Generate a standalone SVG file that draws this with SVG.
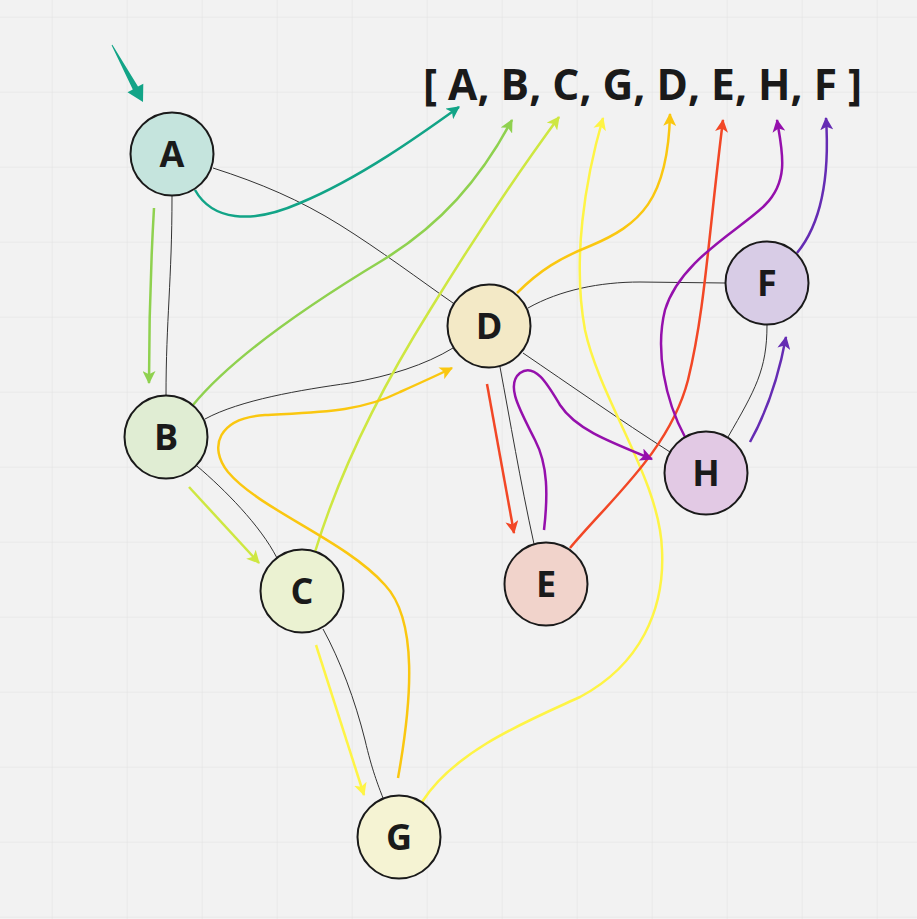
<svg xmlns="http://www.w3.org/2000/svg" width="917" height="919" viewBox="0 0 917 919">
<style>
.node circle{stroke:#1a1a1a;stroke-width:2}
.node text{font-family:"Open Sans","Noto Sans","Liberation Sans",sans-serif;font-weight:700;font-size:36px;fill:#1a1a1a;text-anchor:middle}
.edge{fill:none;stroke:#333;stroke-width:1}
.tr{fill:none;stroke-width:2.5}
.title{font-family:"Open Sans","Noto Sans","Liberation Sans",sans-serif;font-weight:700;font-size:42.5px;fill:#1a1a1a}
</style>
<defs>
<pattern id="grid" x="51.7" y="16.7" width="75" height="75" patternUnits="userSpaceOnUse">
<path d="M0,0 H75 M0,0 V75" stroke="#e6e6e6" stroke-width="1.5" fill="none"/>
</pattern>
<marker id="m-teal" viewBox="0 0 12 12" refX="11" refY="6" markerWidth="13" markerHeight="13" markerUnits="userSpaceOnUse" orient="auto"><path d="M0,0 L12,6 L0,12 L3,6 z" fill="#12a487"/></marker>
<marker id="m-green" viewBox="0 0 12 12" refX="11" refY="6" markerWidth="13" markerHeight="13" markerUnits="userSpaceOnUse" orient="auto"><path d="M0,0 L12,6 L0,12 L3,6 z" fill="#8fd14f"/></marker>
<marker id="m-lime" viewBox="0 0 12 12" refX="11" refY="6" markerWidth="13" markerHeight="13" markerUnits="userSpaceOnUse" orient="auto"><path d="M0,0 L12,6 L0,12 L3,6 z" fill="#cee741"/></marker>
<marker id="m-yellow" viewBox="0 0 12 12" refX="11" refY="6" markerWidth="13" markerHeight="13" markerUnits="userSpaceOnUse" orient="auto"><path d="M0,0 L12,6 L0,12 L3,6 z" fill="#fef445"/></marker>
<marker id="m-orange" viewBox="0 0 12 12" refX="11" refY="6" markerWidth="13" markerHeight="13" markerUnits="userSpaceOnUse" orient="auto"><path d="M0,0 L12,6 L0,12 L3,6 z" fill="#fac710"/></marker>
<marker id="m-red" viewBox="0 0 12 12" refX="11" refY="6" markerWidth="13" markerHeight="13" markerUnits="userSpaceOnUse" orient="auto"><path d="M0,0 L12,6 L0,12 L3,6 z" fill="#f24726"/></marker>
<marker id="m-purple" viewBox="0 0 12 12" refX="11" refY="6" markerWidth="13" markerHeight="13" markerUnits="userSpaceOnUse" orient="auto"><path d="M0,0 L12,6 L0,12 L3,6 z" fill="#9510ac"/></marker>
<marker id="m-violet" viewBox="0 0 12 12" refX="11" refY="6" markerWidth="13" markerHeight="13" markerUnits="userSpaceOnUse" orient="auto"><path d="M0,0 L12,6 L0,12 L3,6 z" fill="#652cb3"/></marker>
</defs>
<rect width="917" height="919" fill="#f2f2f2"/>
<rect width="917" height="919" fill="url(#grid)"/>

<g id="connectors">
<g id="edges">
<path class="edge" d="M172,196 C172,280 166,320 166,396"/>
<path class="edge" d="M213,168 C260,183 300,200 340,225 C380,250 420,280 453,303"/>
<path class="edge" d="M205,419 C240,400 300,390 350,383 C390,376 425,365 453,348"/>
<path class="edge" d="M197,466 C225,490 260,525 277,558"/>
<path class="edge" d="M323,629 C340,660 355,700 365,740 C372,770 378,785 383,798"/>
<path class="edge" d="M500,367 C510,420 520,480 534,544"/>
<path class="edge" d="M528,308 C560,290 600,282 640,282 L725,283"/>
<path class="edge" d="M523,353 C570,385 620,420 670,452"/>
<path class="edge" d="M767,325 C767,370 755,390 728,437"/>
</g>
<g id="traversal">
<path d="M111.6,45.2 L112.4,44.8 L138,86.6 L143.3,83.7 L143,102 L127.5,92.3 L132.8,89.4 z" fill="#12a487"/>
<path class="tr" stroke="#12a487" marker-end="url(#m-teal)" d="M195,190 C212,220 250,225 300,203 C360,178 420,135 459,107"/>
<path class="tr" stroke="#8fd14f" marker-end="url(#m-green)" d="M154,208 C151,260 149,330 149,383"/>
<path class="tr" stroke="#8fd14f" marker-end="url(#m-green)" d="M193,405 C230,360 300,310 383,260 C440,225 480,180 512,120"/>
<path class="tr" stroke="#cee741" marker-end="url(#m-lime)" d="M189,487 L259,563"/>
<path class="tr" stroke="#cee741" marker-end="url(#m-lime)" d="M315,552 C340,470 380,390 430,310 C470,245 520,170 559,117"/>
<path class="tr" stroke="#fef445" marker-end="url(#m-yellow)" d="M316,645 L364,795"/>
<path class="tr" stroke="#fef445" marker-end="url(#m-yellow)" d="M422,802 C455,750 530,720 580,697 C640,665 665,610 662,550 C660,480 600,400 585,330 C572,260 585,180 603,118"/>
<path class="tr" stroke="#fac710" marker-end="url(#m-orange)" d="M398,778 C412,700 418,620 385,585 C345,540 260,510 228,472 C208,447 218,418 265,415 C320,412 360,412 400,392 C420,383 440,374 452,368"/>
<path class="tr" stroke="#fac710" marker-end="url(#m-orange)" d="M517,293 C540,270 560,258 590,246 C640,225 668,200 670,114"/>
<path class="tr" stroke="#f24726" marker-end="url(#m-red)" d="M487,384 L514,533"/>
<path class="tr" stroke="#f24726" marker-end="url(#m-red)" d="M570,548 C610,500 670,450 688,380 C705,310 708,240 723,120"/>
<path class="tr" stroke="#9510ac" marker-end="url(#m-purple)" d="M544,530 C548,495 548,465 535,440 C520,410 505,385 520,373 C535,362 548,385 560,405 C575,428 605,440 652,459"/>
<path class="tr" stroke="#9510ac" marker-end="url(#m-purple)" d="M685,437 C665,400 655,350 665,310 C680,260 740,230 765,205 C790,180 782,150 777,120"/>
<path class="tr" stroke="#652cb3" marker-end="url(#m-violet)" d="M750,442 C765,415 778,380 786,337"/>
<path class="tr" stroke="#652cb3" marker-end="url(#m-violet)" d="M797,253 C820,225 830,180 826,118"/>
</g>
</g>

<g id="node-A" class="node"><circle cx="172" cy="154" r="41.5" fill="#c5e4dd"/><text x="172" y="167">A</text></g>
<g id="node-B" class="node"><circle cx="166" cy="437" r="41.5" fill="#e0edd3"/><text x="166" y="450">B</text></g>
<g id="node-C" class="node"><circle cx="302" cy="591" r="41.5" fill="#ebf2d2"/><text x="302" y="604">C</text></g>
<g id="node-D" class="node"><circle cx="489" cy="326" r="41.5" fill="#f3e9c6"/><text x="489" y="339">D</text></g>
<g id="node-E" class="node"><circle cx="546" cy="584" r="41.5" fill="#f1d3cb"/><text x="546" y="597">E</text></g>
<g id="node-F" class="node"><circle cx="767" cy="283" r="41.5" fill="#d8cce6"/><text x="767" y="296">F</text></g>
<g id="node-G" class="node"><circle cx="399" cy="837" r="41.5" fill="#f5f3d3"/><text x="399" y="850">G</text></g>
<g id="node-H" class="node"><circle cx="706" cy="473" r="41.5" fill="#e2c9e4"/><text x="706" y="486">H</text></g>

<g id="result"><text class="title" x="423" y="100">[ A, B, C, G, D, E, H, F ]</text></g>
</svg>
